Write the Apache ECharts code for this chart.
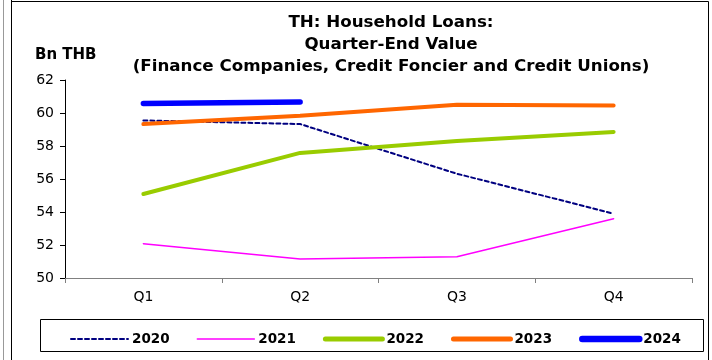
<!DOCTYPE html>
<html><head><meta charset="utf-8">
<script src="https://cdn.jsdelivr.net/npm/echarts@6/dist/echarts.min.js"></script>
<style>html,body{margin:0;padding:0;background:#fff}#c{width:712px;height:360px}</style>
</head><body><div id="c"></div>
<script>
const categories = ['Q1','Q2','Q3','Q4'];
const s2020 = [59.55, 59.33, 56.32, 53.9];
const s2021 = [52.08, 51.15, 51.29, 53.59];
const s2022 = [55.09, 57.58, 58.3, 58.85];
const s2023 = [59.33, 59.84, 60.5, 60.46];
const s2024 = [60.58, 60.66, null, null];
const yTicks = [50, 52, 54, 56, 58, 60, 62];
const years = ['2020','2021','2022','2023','2024'];
const colors = ['#000080','#FF00FF','#99CC00','#FF6600','#0000FF'];
const widths = [2, 1.5, 4, 4, 5.5];

const FONT = '"DejaVu Sans", Verdana, sans-serif';
const chart = echarts.init(document.getElementById('c'), null, {renderer:'canvas'});
function ser(i, data) {
  return {name:years[i], type:'line', data, symbol:'none', showSymbol:false, smooth:false,
    lineStyle:{color:colors[i], width:widths[i], type: i===0 ? [4,3] : 'solid', cap:'round'},
    itemStyle:{color:colors[i]}, z: 2};
}
chart.setOption({
  animation:false,
  backgroundColor:'#fff',
  title:{
    text:'TH: Household Loans:\nQuarter-End Value\n(Finance Companies, Credit Foncier and Credit Unions)',
    left:386, textAlign:'center', top:7,
    textStyle:{fontFamily:FONT, fontSize:16.7, fontWeight:'bold', color:'#000', lineHeight:22}
  },
  graphic:[
    {type:'line', shape:{x1:3.5,y1:0,x2:3.5,y2:360}, style:{stroke:'#999', lineWidth:1}},
    {type:'line', shape:{x1:11.5,y1:0,x2:11.5,y2:360}, style:{stroke:'#000', lineWidth:1}},
    {type:'line', shape:{x1:11.5,y1:1.5,x2:708.5,y2:1.5}, style:{stroke:'#000', lineWidth:1}},
    {type:'line', shape:{x1:708.5,y1:1.5,x2:708.5,y2:360}, style:{stroke:'#000', lineWidth:1}},
    {type:'rect', shape:{x:40.5,y:319.5,width:663,height:32}, style:{fill:'none', stroke:'#000', lineWidth:1}},
    {type:'text', left:35, top:48, style:{text:'Bn THB', font:'bold 15px '+FONT, fill:'#000'}}
  ],
  grid:{left:65, right:20, top:80, bottom:82, containLabel:false},
  xAxis:{type:'category', data:categories, boundaryGap:true,
    axisLine:{lineStyle:{color:'#808080', width:1}},
    axisTick:{show:true, length:5, lineStyle:{color:'#808080'}},
    axisLabel:{fontFamily:FONT, fontSize:14, color:'#000', margin:12},
    splitLine:{show:false}},
  yAxis:{type:'value', min:50, max:62, interval:2,
    axisLine:{show:true, lineStyle:{color:'#000', width:1}},
    axisTick:{show:true, length:5, lineStyle:{color:'#000'}},
    axisLabel:{fontFamily:FONT, fontSize:14, color:'#000', margin:11,
      formatter:v => yTicks.includes(v) ? String(v) : ''},
    splitLine:{show:false}},
  legend:{
    left:65, top:327, itemWidth:57, itemHeight:14, itemGap:27,
    itemStyle:{opacity:0},
    textStyle:{fontFamily:FONT, fontSize:13.5, fontWeight:'bold', color:'#000', padding:[0,0,0,-1]},
    data: years.map((y,i) => ({name:y, lineStyle:{width: i<2 ? widths[i] : widths[i]+1}}))
  },
  series:[
    ser(0, s2020), ser(1, s2021), ser(2, s2022), ser(3, s2023), ser(4, s2024)
  ]
});
</script></body></html>
